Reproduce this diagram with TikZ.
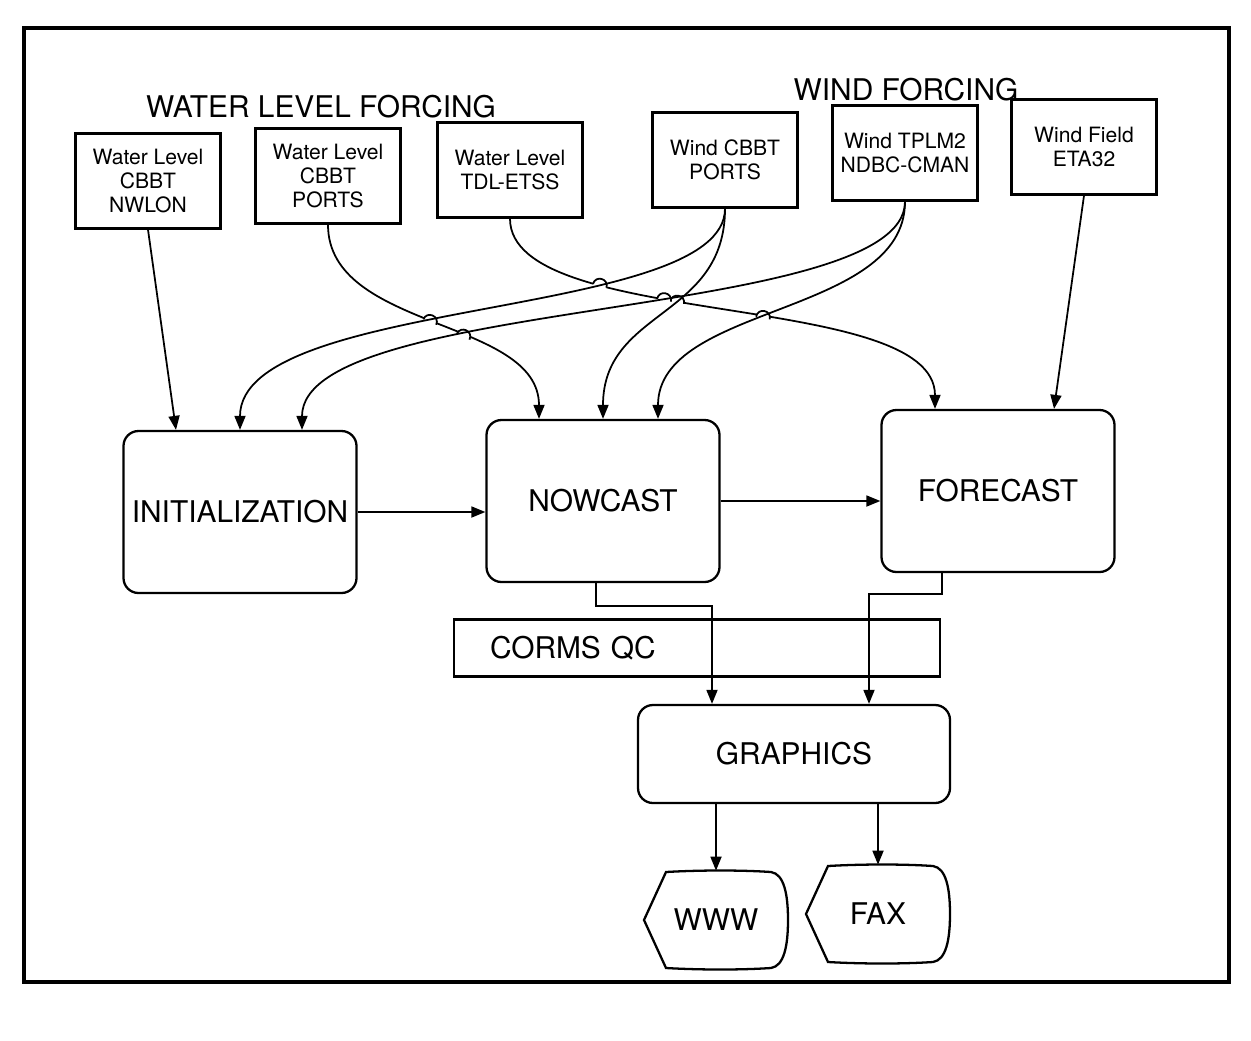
\documentclass[tikz,border=0pt]{standalone}
\usepackage{fontspec}
\setmainfont{TeX Gyre Heros}
\usetikzlibrary{arrows.meta, calc, backgrounds, intersections}

% small jump of curve #1 where it crosses curve #2
\newcommand{\hopover}[2]{%
  \path[name intersections={of=#1 and #2, name=cx}];
  \fill[white] (cx-1) circle (7);
  \path[name path=hopring] (cx-1) circle (7);
  \draw[conn, name intersections={of=hopring and #1, sort by=#1, name=hx}]
    (hx-1) .. controls ($(hx-1)!0.19cm!90:(hx-2)$) and ($(hx-2)!0.19cm!-90:(hx-1)$) .. (hx-2);
}

\begin{document}
\begin{tikzpicture}[
  x=0.2mm, y=-0.2mm,
  src/.style={draw, line width=1.3pt, minimum width=2.9cm, minimum height=1.9cm, align=center, font=\fontsize{12}{13.5}\selectfont},
  stage/.style={draw, rounded corners=0.3cm, line width=1.3pt, minimum width=4.66cm, minimum height=3.24cm, font=\fontsize{17}{20}\selectfont},
  qcbox/.style={draw, line width=1.3pt, minimum height=1.14cm, text width=8.28cm, inner xsep=0.72cm, align=left, font=\fontsize{17}{20}\selectfont},
  outlet/.style={minimum width=2.86cm, minimum height=1.96cm, font=\fontsize{17}{20}\selectfont},
  heading/.style={font=\fontsize{17}{20}\selectfont},
  conn/.style={line width=1pt},
  arr/.style={conn, -{Triangle[length=2.8mm, width=2.2mm]}}
]
  \useasboundingbox (0,0) rectangle (1251,1040);
  % Frame
  \draw[line width=2pt] (24,28) rectangle (1229,982);
  % Headings
  \node[heading] (wlhead) at (321,107) {WATER LEVEL FORCING};
  \node[heading] (wdhead) at (906,90) {WIND FORCING};
  % Forcing inputs
  \node[src] (wlnwlon) at (148,181) {Water Level\\CBBT\\NWLON};
  \node[src] (wlports) at (328,176) {Water Level\\CBBT\\PORTS};
  \node[src] (wltdl) at (510,170) {Water Level\\TDL-ETSS};
  \node[src] (wdports) at (725,160) {Wind CBBT\\PORTS};
  \node[src] (wdtplm) at (905,153) {Wind TPLM2\\NDBC-CMAN};
  \node[src] (wdeta) at (1084,147) {Wind Field\\ETA32};
  % Model runs
  \node[stage] (init) at (240,512) {INITIALIZATION};
  \node[stage] (nowcast) at (603,501) {NOWCAST};
  \node[stage] (forecast) at (998,491) {FORECAST};
  % QC and products
  \node[qcbox] (corms) at (697,648) {CORMS QC};
  \node[stage, minimum width=6.24cm, minimum height=1.96cm] (graphics) at (794,754) {GRAPHICS};
  \node[outlet] (www) at (716,920) {WWW};
  \node[outlet] (fax) at (878,914) {FAX};
  \foreach \n in {www,fax}
    \draw[line width=1.3pt] ($(\n)+(-72,0)$) -- ($(\n)+(-50,-48)$)
      .. controls ($(\n)+(-15,-50)$) and ($(\n)+(25,-50)$) .. ($(\n)+(55,-48)$)
      .. controls ($(\n)+(68,-46)$) and ($(\n)+(72,-26)$) .. ($(\n)+(72,0)$)
      .. controls ($(\n)+(72,26)$) and ($(\n)+(68,46)$) .. ($(\n)+(55,48)$)
      .. controls ($(\n)+(25,50)$) and ($(\n)+(-15,50)$) .. ($(\n)+(-50,48)$) -- cycle;

  % Forcing connectors
  \draw[arr] (wlnwlon.south) -- ($(init.north)+(-64,0)$);
  \draw[arr] (wdeta.south) -- ($(forecast.north)+(56,0)$);
  \draw[arr, name path=ws2i] (wdports.south) .. controls +(0,112) and +(0,-134) .. (init.north);
  \draw[arr, name path=ws2n] (wdports.south) .. controls +(0,110) and +(0,-110) .. (nowcast.north);
  \draw[arr, name path=wt2i] (wdtplm.south) .. controls +(0,120) and +(0,-134) .. ($(init.north)+(62,0)$);
  \draw[arr, name path=wt2n] (wdtplm.south) .. controls +(0,115) and +(0,-115) .. ($(nowcast.north)+(55,0)$);
  \begin{scope}[on background layer]
    \draw[arr, name path=p2n] (wlports.south) .. controls +(0,106) and +(0,-101) .. ($(nowcast.north)+(-64,0)$);
    \draw[arr, name path=t2f] (wltdl.south) .. controls +(0,112) and +(0,-120) .. ($(forecast.north)+(-63,0)$);
    \hopover{p2n}{ws2i}
    \hopover{p2n}{wt2i}
    \hopover{t2f}{ws2i}
    \hopover{t2f}{ws2n}
    \hopover{t2f}{wt2i}
    \hopover{t2f}{wt2n}
  \end{scope}

  % Model flow
  \draw[arr] (init.east) -- (init.east -| nowcast.west);
  \draw[arr] (nowcast.east) -- (nowcast.east -| forecast.west);
  \draw[arr] ($(nowcast.south)+(-7,0)$) -- ++(0,23) -| ($(graphics.north)+(-82,0)$);
  \draw[arr] ($(forecast.south)+(-56,0)$) -- ++(0,21) -| ($(graphics.north)+(75,0)$);
  \draw[arr] (graphics.south -| www.north) -- (www.north);
  \draw[arr] (graphics.south -| fax.north) -- (fax.north);
\end{tikzpicture}
\end{document}
